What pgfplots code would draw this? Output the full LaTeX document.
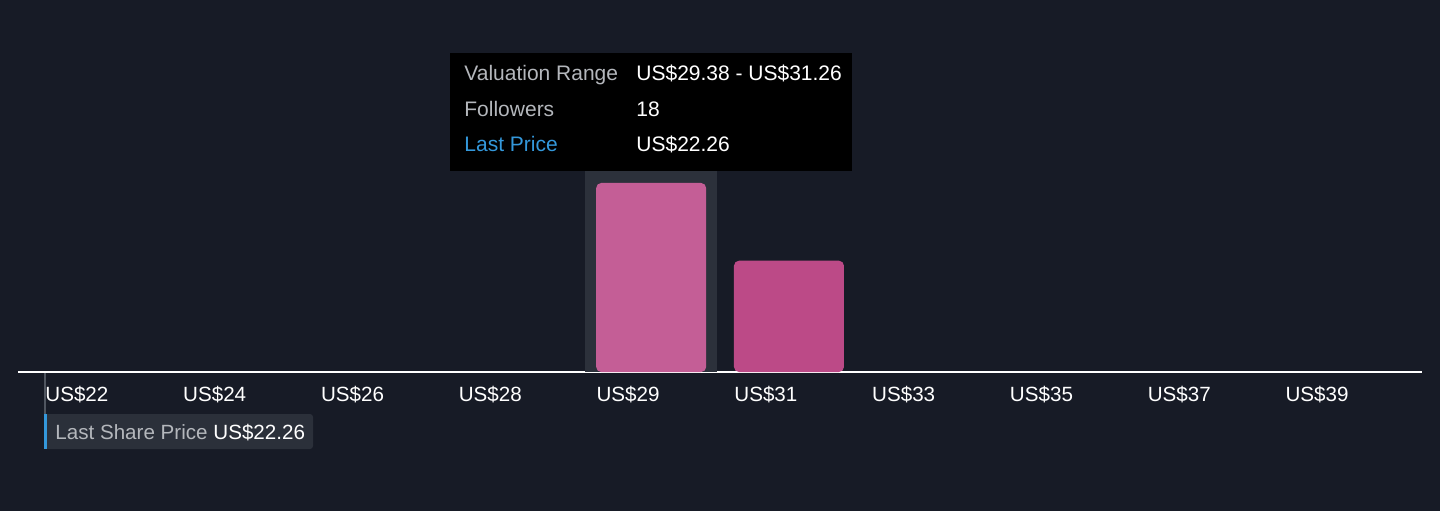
\documentclass[border=0pt]{standalone}
\usepackage{fontspec}
\setmainfont{Liberation Sans}
\usepackage{pgfplots}
\pgfplotsset{compat=1.18}
\definecolor{bg}{RGB}{23,27,38}
\definecolor{barA}{RGB}{196,94,150}
\definecolor{barB}{RGB}{188,74,135}
\definecolor{hl}{RGB}{44,49,59}
\definecolor{lblgrey}{RGB}{180,183,188}
\definecolor{lpblue}{RGB}{52,152,219}
\definecolor{boxgrey}{RGB}{43,48,58}
\definecolor{linegrey}{RGB}{80,86,96}
\begin{document}
\begin{tikzpicture}
\fill[bg] (0,0) rectangle (720pt,255.5pt);
\begin{axis}[
  at={(9pt,69.5pt)}, anchor=south west,
  scale only axis, width=702pt, height=171pt,
  xmin=-0.595, xmax=9.594, ymin=0, ymax=32.57,
  hide y axis, axis x line*=bottom,
  x axis line style={white, line width=1pt, -},
  xtick={-0.399,0.601,1.601,2.601,3.601,4.601,5.601,6.601,7.601,8.601},
  xticklabels={US\$22,US\$24,US\$26,US\$28,US\$29,US\$31,US\$33,US\$35,US\$37,US\$39},
  xticklabel style={anchor=base west, inner sep=0pt, yshift=-14.5pt, text=white, font=\fontsize{10.3}{12}\selectfont},
  major tick length=0pt,
  ybar, bar width=0.798,
  clip=false,
]
\fill[hl] (axis cs:3.52,0) rectangle (axis cs:4.477,20);
\addplot[fill=barA, draw=none, bar shift=0pt, rounded corners=2.5pt] coordinates {(4,18)};
\addplot[fill=barB, draw=none, bar shift=0pt, rounded corners=2.5pt] coordinates {(5,10.6)};
\end{axis}
% last price marker line
\draw[linegrey, line width=0.8pt] (22.5pt,69pt) -- (22.5pt,48.5pt);
% last share price box
\fill[boxgrey, rounded corners=1.5pt] (22pt,31pt) rectangle (156.5pt,48.5pt);
\fill[lpblue] (22pt,31pt) rectangle (23.5pt,48.5pt);
\node[anchor=base west, inner sep=0pt, text=lblgrey, font=\fontsize{10.3}{12}\selectfont] at (27.5pt,36pt) {Last Share Price};
\node[anchor=base west, inner sep=0pt, text=white, font=\fontsize{10.3}{12}\selectfont] at (106.5pt,36pt) {US\$22.26};
% tooltip
\fill[black] (225pt,170pt) rectangle (426pt,229pt);
\node[anchor=base west, inner sep=0pt, text=lblgrey, font=\fontsize{10.5}{12}\selectfont] at (232pt,215.2pt) {Valuation Range};
\node[anchor=base west, inner sep=0pt, text=white, font=\fontsize{10.5}{12}\selectfont] at (318pt,215.2pt) {US\$29.38 - US\$31.26};
\node[anchor=base west, inner sep=0pt, text=lblgrey, font=\fontsize{10.5}{12}\selectfont] at (232pt,197.5pt) {Followers};
\node[anchor=base west, inner sep=0pt, text=white, font=\fontsize{10.5}{12}\selectfont] at (318pt,197.5pt) {18};
\node[anchor=base west, inner sep=0pt, text=lpblue, font=\fontsize{10.5}{12}\selectfont] at (232pt,180pt) {Last Price};
\node[anchor=base west, inner sep=0pt, text=white, font=\fontsize{10.5}{12}\selectfont] at (318pt,180pt) {US\$22.26};
\end{tikzpicture}
\end{document}
